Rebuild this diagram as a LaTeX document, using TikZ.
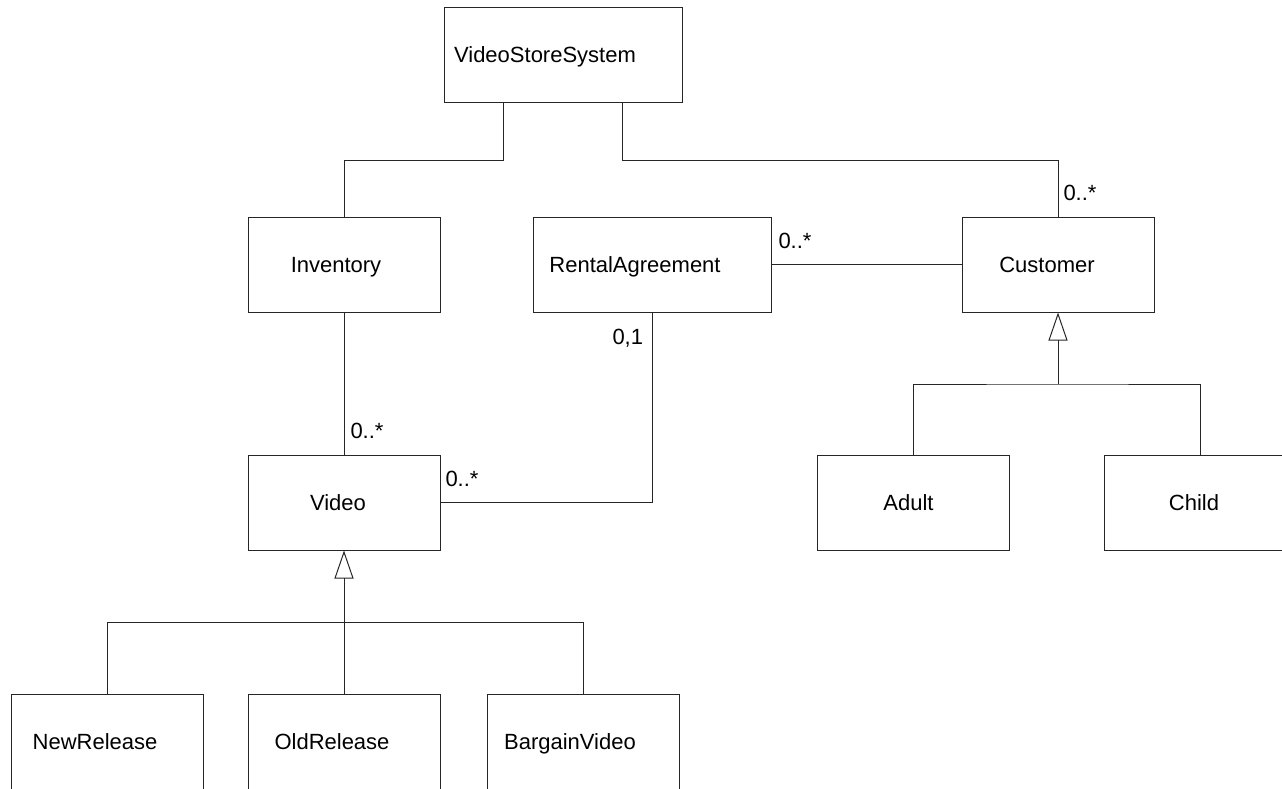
\documentclass[tikz,border=0pt]{standalone}
\usepackage{fontspec}
\setmainfont{Liberation Sans}
\usetikzlibrary{arrows.meta}

\begin{document}
\begin{tikzpicture}[x=1pt,y=-1pt,line width=1pt,draw=black!85]
\tikzstyle{every node}=[font=\fontsize{22}{26}\selectfont]
\tikzstyle{every label}=[text height=15.75pt,text depth=0pt,inner sep=0pt]
\tikzstyle{cls}=[draw=black!85,minimum width=192pt,minimum height=95pt,inner sep=0pt]
\tikzstyle{wide}=[minimum width=238pt]
\tikzstyle{mult}=[anchor=west,inner sep=0pt,text height=15.75pt,text depth=0pt]
\tikzstyle{gen}=[-{Triangle[open,width=19pt,length=28pt]}]
\useasboundingbox (0,0) rectangle (1282,788);
% classes
\draw (563,55) node (vss) [cls,wide,label={[xshift=-18pt]center:VideoStoreSystem}] {};
\draw (344,264.5) node (inv) [cls,label={[xshift=-8pt]center:Inventory}] {};
\draw (652,264.5) node (ra) [cls,wide,label={[xshift=-17pt]center:RentalAgreement}] {};
\draw (1058,264.5) node (cust) [cls,label={[xshift=-11pt]center:Customer}] {};
\draw (344,502.5) node (video) [cls,label={[xshift=-6pt]center:Video}] {};
\draw (913.5,502.5) node (adult) [cls,label={[xshift=-5pt]center:Adult}] {};
\draw (1200,502.5) node (child) [cls,label={[xshift=-6pt]center:Child}] {};
\draw (107,741.5) node (newr) [cls,label={[xshift=-12pt]center:NewRelease}] {};
\draw (344,741.5) node (oldr) [cls,label={[xshift=-12pt]center:OldRelease}] {};
\draw (583,741.5) node (barg) [cls,label={[xshift=-13pt]center:BargainVideo}] {};
% bends
\coordinate (j1) at (503,160);
\coordinate (j2) at (622,160);
\coordinate (j3) at (652,502.5);
\coordinate (g1) at (344,622);
\coordinate (g2) at (1058,384);
% associations
\draw (j1 |- vss.south) -- (j1) -| (inv.north);
\draw (j2 |- vss.south) -- (j2) -| (cust.north);
\draw (ra.east) -- (cust.west);
\draw (j3 |- ra.south) -- (j3) -- (video.east);
\draw (inv.south) -- (video.north);
% generalizations
\draw[gen] (g1) -- (video.south);
\draw (newr.north) |- (g1) -| (barg.north);
\draw (oldr.north) -- (g1);
\draw[gen] (g2) -- (cust.south);
\draw (adult.north) |- (g2) -| (child.north);
% multiplicities
\draw (1063,193) node (m1) [mult] {0..*};
\draw (778,241) node (m2) [mult] {0..*};
\draw (612,337) node (m3) [mult] {0,1};
\draw (350,431) node (m4) [mult] {0..*};
\draw (445,479) node (m5) [mult] {0..*};
\end{tikzpicture}
\end{document}
